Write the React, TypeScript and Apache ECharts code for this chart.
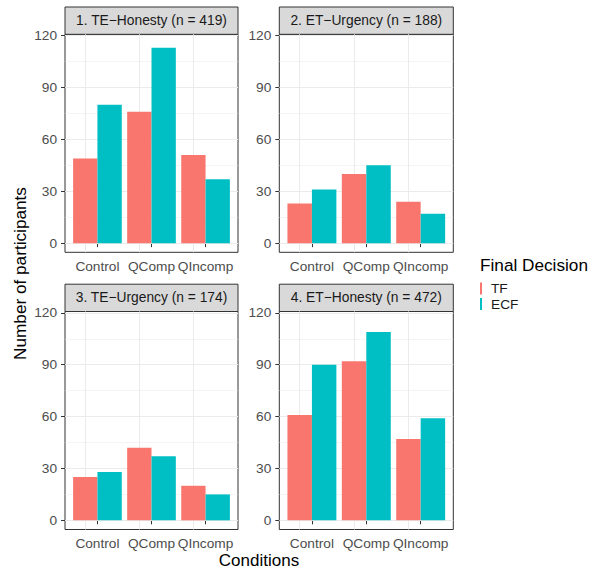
import React, { useEffect, useRef } from "react";
import * as echarts from "echarts";

const categories = ["Control", "QComp", "QIncomp"];
const panelTitles = [
  "1. TE\u2212Honesty (n = 419)",
  "2. ET\u2212Urgency (n = 188)",
  "3. TE\u2212Urgency (n = 174)",
  "4. ET\u2212Honesty (n = 472)",
];
const tfValues = [
  [49, 76, 51],
  [23, 40, 24],
  [25, 42, 20],
  [61, 92, 47],
];
const ecfValues = [
  [80, 113, 37],
  [31, 45, 17],
  [28, 37, 15],
  [90, 109, 59],
];
const yTicks = [0, 30, 60, 90, 120];
const yMinorTicks = [15, 45, 75, 105];
const seriesNames = ["TF", "ECF"];
const colors = ["#F8766D", "#00BFC4"];

const FONT = "Liberation Sans, Arial, Helvetica, sans-serif";

const panels = [
  { left: 65, top: 34.3, width: 173, height: 218 },
  { left: 279.3, top: 34.3, width: 174, height: 218 },
  { left: 65, top: 311.5, width: 173, height: 218 },
  { left: 279.3, top: 311.5, width: 174, height: 218 },
];
const STRIP_H = 27.3;
// category positions 1..n, with ggplot's 0.6 discrete expansion
const catPos = categories.map((_, i) => i + 1);

export default function App() {
  const ref = useRef<HTMLDivElement>(null);
  useEffect(() => {
    if (!ref.current) return;
    const chart = echarts.init(ref.current, undefined, { renderer: "svg" });

    const grid = panels.map((p) => ({
      left: p.left,
      top: p.top,
      width: p.width,
      height: p.height,
      show: true,
      borderColor: "#333333",
      borderWidth: 1,
      backgroundColor: "#ffffff",
      containLabel: false,
    }));

    const xAxis = panels.map((_, i) => ({
      type: "value",
      gridIndex: i,
      min: 0.4,
      max: categories.length + 0.6,
      axisLine: { show: false },
      axisTick: { show: true, customValues: catPos, length: 4, lineStyle: { color: "#333333", width: 1 } },
      axisLabel: {
        customValues: catPos,
        margin: 7,
        color: "#4d4d4d",
        fontSize: 13.7,
        fontFamily: FONT,
        formatter: (v: number) => categories[Math.round(v) - 1] ?? "",
      },
      splitLine: { show: false },
    }));

    const yAxis = panels.map((_, i) => ({
      type: "value",
      gridIndex: i,
      min: -5.3,
      max: 120.8,
      axisLine: { show: false },
      axisTick: { show: true, customValues: yTicks, length: 4, lineStyle: { color: "#333333", width: 1 } },
      axisLabel: { customValues: yTicks, margin: 8, color: "#4d4d4d", fontSize: 13.7, fontFamily: FONT },
      splitLine: { show: false },
    }));

    const gridLineData = (): any[] => [
      ...yTicks.map((v) => ({ yAxis: v, lineStyle: { color: "#ebebeb", width: 1.07, type: "solid" } })),
      ...yMinorTicks.map((v) => ({ yAxis: v, lineStyle: { color: "#ebebeb", width: 0.53, type: "solid" } })),
      ...catPos.map((c) => ({ xAxis: c, lineStyle: { color: "#ebebeb", width: 1.07, type: "solid" } })),
    ];

    const series: any[] = [];
    panels.forEach((_, i) => {
      [tfValues[i], ecfValues[i]].forEach((vals, s) => {
        series.push({
          type: "bar",
          name: seriesNames[s],
          xAxisIndex: i,
          yAxisIndex: i,
          data: vals.map((v, k) => [catPos[k], v]),
          barGap: "0%",
          barCategoryGap: "10%",
          itemStyle: { color: colors[s] },
          silent: true,
          z: 2,
          markLine:
            s === 0
              ? {
                  silent: true,
                  symbol: "none",
                  z: 1,
                  label: { show: false },
                  animation: false,
                  data: gridLineData(),
                }
              : undefined,
        });
      });
    });

    const graphic: any[] = [];
    panels.forEach((p, i) => {
      graphic.push({
        type: "rect",
        shape: { x: p.left, y: p.top - STRIP_H, width: p.width, height: STRIP_H },
        style: { fill: "#d9d9d9", stroke: "#333333", lineWidth: 1 },
        silent: true,
      });
      graphic.push({
        type: "text",
        x: p.left + p.width / 2,
        y: p.top - STRIP_H / 2,
        style: {
          text: panelTitles[i],
          fill: "#1a1a1a",
          fontSize: 13.8,
          fontFamily: FONT,
          textAlign: "center",
          textVerticalAlign: "middle",
        },
        silent: true,
      });
    });
    graphic.push({
      type: "text",
      x: 20,
      y: 273.5,
      rotation: Math.PI / 2,
      style: {
        text: "Number of participants",
        fill: "#000000",
        fontSize: 17.2,
        fontFamily: FONT,
        textAlign: "center",
        textVerticalAlign: "middle",
      },
      silent: true,
    });
    graphic.push({
      type: "text",
      x: 259,
      y: 560,
      style: {
        text: "Conditions",
        fill: "#000000",
        fontSize: 17,
        fontFamily: FONT,
        textAlign: "center",
        textVerticalAlign: "middle",
      },
      silent: true,
    });
    graphic.push({
      type: "text",
      x: 480,
      y: 265,
      style: {
        text: "Final Decision",
        fill: "#000000",
        fontSize: 17.2,
        fontFamily: FONT,
        textAlign: "left",
        textVerticalAlign: "middle",
      },
      silent: true,
    });

    chart.setOption({
      animation: false,
      backgroundColor: "#ffffff",
      grid,
      xAxis,
      yAxis,
      series,
      graphic,
      legend: {
        data: seriesNames,
        orient: "vertical",
        left: 480,
        top: 281.5,
        icon: "rect",
        itemWidth: 2,
        itemHeight: 12,
        itemGap: 1.6,
        selectedMode: false,
        padding: 0,
        textStyle: { color: "#1a1a1a", fontSize: 13.7, fontFamily: FONT, padding: [0, 0, 0, 4] },
      },
    });
    return () => chart.dispose();
  }, []);

  return (
    <div
      ref={ref}
      style={{ position: "absolute", left: 0, top: 0, width: 590, height: 570 }}
    />
  );
}
